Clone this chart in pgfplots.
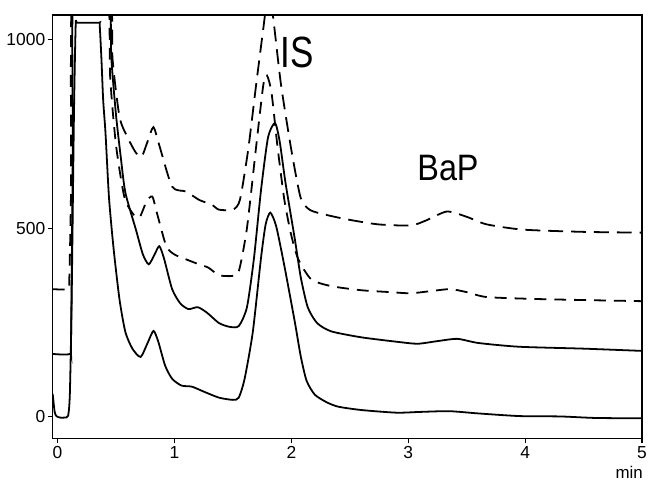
\documentclass[border=0pt]{standalone}
\usepackage{pgfplots}
\pgfplotsset{compat=1.18}
\usepackage{fontspec}
\setmainfont{Liberation Sans}
\usepackage{graphicx}

\begin{document}
\begin{tikzpicture}
\begin{axis}[
  name=ax,
  width=593pt, height=426pt, scale only axis,
  xmin=-0.042, xmax=5, ymin=-58, ymax=1066,
  xtick={0,1,2,3,4,5}, ytick={0,500,1000},
  tick align=outside, tick pos=left,
  major tick length=5pt,
  axis line style={line width=1.4pt},
  tick style={line width=1.1pt, black},
  ticklabel style={font=\fontsize{17.5}{19}\selectfont},
  yticklabel style={xshift=1pt},
  /pgf/number format/assume math mode=true,
  /pgf/number format/1000 sep={},
]
% lower solid trace
\addplot[black, line width=1.8pt, smooth, tension=0.4] coordinates {
 (-0.042,60) (-0.025,12) (-0.01,1) (0.02,-3) (0.06,-3) (0.09,2) (0.105,60) (0.12,300) (0.14,800) (0.155,1040) (0.17,1045)
 (0.35,1045) (0.36,1040) (0.375,950) (0.39,840) (0.41,752) (0.44,580) (0.48,443) (0.53,310)
 (0.58,224) (0.64,180) (0.71,158) (0.77,195) (0.82,227) (0.86,200) (0.92,135)
 (0.98,100) (1.06,82) (1.15,79) (1.25,66) (1.38,50) (1.5,44) (1.55,50) (1.6,100)
 (1.67,224) (1.74,420) (1.78,510) (1.82,541) (1.87,505) (1.94,400) (2.03,250)
 (2.08,160) (2.13,95) (2.2,58) (2.3,38) (2.4,26) (2.6,17) (2.9,10) (3.1,12) (3.35,14)
 (3.6,8) (3.95,1) (4.3,0) (4.6,-4) (5.0,-5)
};
% upper solid trace
\addplot[black, line width=1.8pt, smooth, tension=0.4] coordinates {
 (-0.042,166) (0.105,166) (0.115,200) (0.13,700) (0.145,1200)
 (0.43,1150) (0.46,950) (0.5,800) (0.54,690) (0.58,594) (0.67,496) (0.73,430)
 (0.78,404) (0.83,430) (0.87,452) (0.91,420) (0.98,338) (1.05,300) (1.12,285)
 (1.2,290) (1.28,275) (1.38,248) (1.47,238) (1.55,240) (1.62,290) (1.68,420)
 (1.74,600) (1.8,740) (1.86,779) (1.9,730) (1.95,620) (2.03,470) (2.08,370)
 (2.14,290) (2.22,248) (2.34,226) (2.6,210) (2.91,198) (3.08,193) (3.25,200)
 (3.42,206) (3.6,195) (3.95,185) (4.5,180) (5.0,174)
};
% lower dashed trace
\addplot[black, line width=1.8pt, smooth, tension=0.4, dash pattern=on 12pt off 8pt] coordinates {
 (-0.042,338) (0.09,338) (0.1,360) (0.115,600) (0.135,1200)
 (0.42,1150) (0.45,900) (0.5,720) (0.57,584) (0.64,540) (0.70,528) (0.76,570)
 (0.81,584) (0.85,540) (0.93,452) (1.0,430) (1.1,417) (1.2,405) (1.29,395)
 (1.38,375) (1.49,373) (1.55,385) (1.62,500) (1.7,720) (1.76,880) (1.79,906)
 (1.83,860) (1.88,720) (1.94,575) (2.0,480) (2.06,417) (2.17,364) (2.34,346)
 (2.6,335) (2.85,330) (3.02,327) (3.2,333) (3.36,338) (3.5,330) (3.67,317)
 (4.07,312) (4.5,309) (5.0,306)
};
% upper dashed trace
\addplot[black, line width=1.8pt, smooth, tension=0.4, dash pattern=on 15pt off 8pt] coordinates {
 (0.1,1200) (0.44,1150) (0.47,950) (0.53,795) (0.6,740) (0.67,700) (0.72,690)
 (0.77,730) (0.82,768) (0.87,720) (0.98,610) (1.1,597) (1.21,575) (1.32,562)
 (1.38,549) (1.5,549) (1.56,575) (1.63,707) (1.7,884) (1.76,1030) (1.8,1120)
 (1.84,1069) (1.91,884) (2.0,707) (2.08,580) (2.16,548) (2.3,535) (2.48,523) (2.74,510)
 (3.02,507) (3.15,520) (3.33,544) (3.5,530) (3.67,510) (3.98,496) (4.5,490)
 (5.0,488)
};
\coordinate (ispos) at (axis cs:2.05,966);
\coordinate (bappos) at (axis cs:3.34,660);
\coordinate (minpos) at (axis cs:4.89,-164);
\end{axis}
\node at (ispos) {\fontsize{44}{48}\selectfont\scalebox{0.8}[1]{IS}};
\node at (bappos) {\fontsize{37}{40}\selectfont\scalebox{0.88}[1]{BaP}};
\node[anchor=base, inner sep=0pt] at (minpos) {\fontsize{17}{18}\selectfont min};
\pgfresetboundingbox
\path (ax.south west) ++(-53pt,-43pt) rectangle ++(652pt,484pt);
\end{tikzpicture}
\end{document}
